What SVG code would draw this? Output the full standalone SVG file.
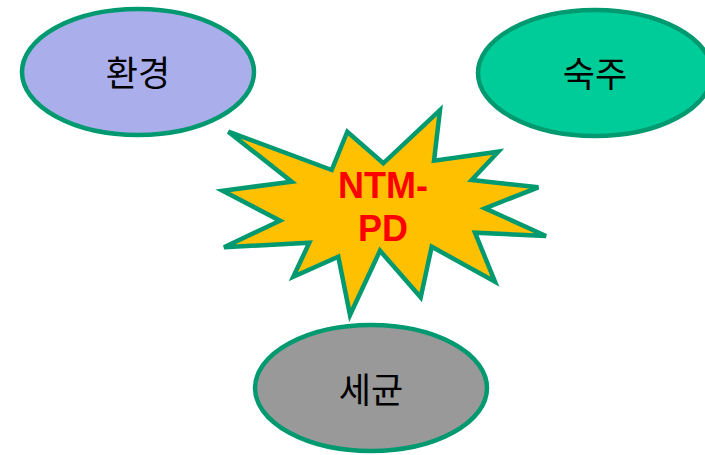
<svg xmlns="http://www.w3.org/2000/svg" width="705" height="455" viewBox="0 0 705 455">
<style>
.node{stroke:#009970;stroke-width:4.5}
.lbl{font-family:"Noto Sans CJK KR","Noto Sans",sans-serif;font-size:35px;fill:#000;text-anchor:middle}
.burst{font-family:"Liberation Sans","Noto Sans",sans-serif;font-weight:bold;font-size:36px;fill:#FF0000;text-anchor:middle}
</style>
<rect width="705" height="455" fill="#fff"/>
<g id="env">
<ellipse class="node" cx="138" cy="72" rx="116" ry="63" fill="#AAAEEB"/>
<text class="lbl" x="138" y="86">환경</text>
</g>
<g id="host">
<ellipse class="node" cx="595" cy="73" rx="117" ry="63" fill="#00CC99"/>
<text class="lbl" x="595" y="87">숙주</text>
</g>
<g id="bact">
<ellipse class="node" cx="371" cy="388" rx="116" ry="63" fill="#999999"/>
<text class="lbl" x="371" y="403">세균</text>
</g>
<g id="ntmpd">
<polygon class="node" stroke-linejoin="miter" fill="#FFC000" points="228.3,131.7 331.7,170 347.3,131.7 383.3,163.3 440,110 434,160.7 498.3,151.7 471.7,180 538.3,187.3 485,208.3 546,236 475,232.7 495,281.7 431.7,246.7 420.7,297.3 380,250.7 350,315 338.3,256.7 293.3,276.7 309.3,242.7 224,247.3 280,220.7 222.7,190.7 291.7,181.7"/>
<text class="burst" x="383" y="198">NTM-</text>
<text class="burst" x="383" y="241">PD</text>
</g>
<g id="connectors"/>
</svg>
